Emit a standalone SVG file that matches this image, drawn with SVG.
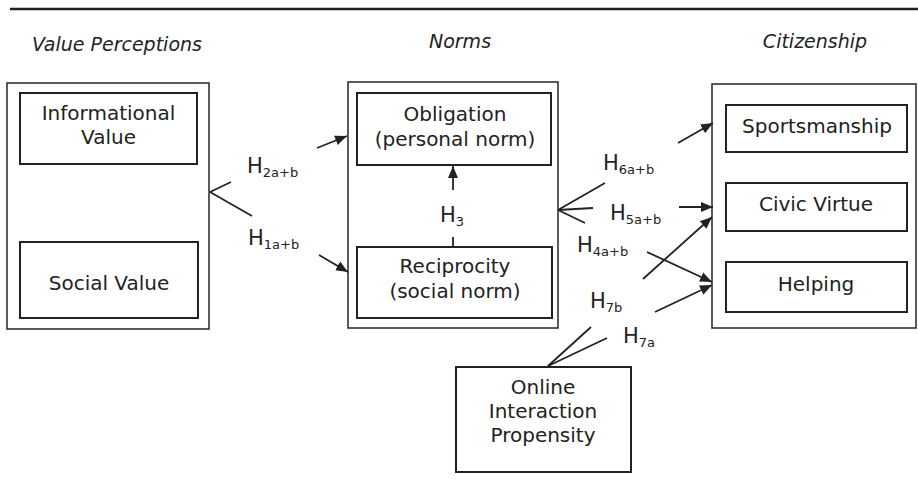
<svg xmlns="http://www.w3.org/2000/svg" width="918" height="495" viewBox="0 0 918 495">
<defs>
<style>
.t{font-family:"DejaVu Sans","Liberation Sans",sans-serif;font-size:20px;fill:#222;text-anchor:middle}
.h{font-family:"DejaVu Sans","Liberation Sans",sans-serif;font-size:19px;fill:#222;font-style:italic;text-anchor:middle}
.l{font-family:"DejaVu Sans","Liberation Sans",sans-serif;font-size:21px;fill:#222}
.s{font-size:13px}
.ob{fill:#fff;stroke:#333;stroke-width:1.6}
.ib{fill:#fff;stroke:#222;stroke-width:2}
.c{stroke:#222;stroke-width:1.8;fill:none}
.a{stroke:#222;stroke-width:1.8;fill:none;marker-end:url(#ah)}
</style>
<marker id="ah" markerUnits="userSpaceOnUse" markerWidth="14" markerHeight="12" refX="12" refY="6" orient="auto">
<path d="M0,1 L12,6 L0,11 Z" fill="#222"/>
</marker>
</defs>
<rect width="918" height="495" fill="#fff"/>
<line x1="10" y1="9" x2="918" y2="9" stroke="#222" stroke-width="2.5"/>
<text class="h" x="117" y="51">Value Perceptions</text>
<text class="h" x="460" y="48">Norms</text>
<text class="h" x="815" y="48">Citizenship</text>

<g id="value-perceptions">
<rect class="ob" x="7" y="83" width="202" height="246"/>
</g>
<g id="informational-value">
<rect class="ib" x="20" y="93" width="177" height="71"/>
<text class="t" x="108.5" y="120">Informational</text>
<text class="t" x="108.5" y="144">Value</text>
</g>
<g id="social-value">
<rect class="ib" x="20" y="242" width="178" height="76"/>
<text class="t" x="109" y="290">Social Value</text>
</g>

<g id="norms">
<rect class="ob" x="348" y="82" width="210" height="246"/>
</g>
<g id="obligation">
<rect class="ib" x="357" y="93" width="194" height="72"/>
<text class="t" x="455" y="121">Obligation</text>
<text class="t" x="455" y="146">(personal norm)</text>
</g>
<g id="reciprocity">
<rect class="ib" x="357" y="247" width="195" height="71"/>
<text class="t" x="455" y="273">Reciprocity</text>
<text class="t" x="455" y="298">(social norm)</text>
</g>

<g id="citizenship">
<rect class="ob" x="712" y="84" width="204" height="244"/>
</g>
<g id="sportsmanship">
<rect class="ib" x="726" y="105" width="181" height="47"/>
<text class="t" x="817" y="133">Sportsmanship</text>
</g>
<g id="civic-virtue">
<rect class="ib" x="726" y="183" width="181" height="48"/>
<text class="t" x="816" y="211">Civic Virtue</text>
</g>
<g id="helping">
<rect class="ib" x="726" y="262" width="181" height="50"/>
<text class="t" x="816" y="291">Helping</text>
</g>

<g id="online-interaction-propensity">
<rect class="ib" x="456" y="367" width="175" height="105"/>
<text class="t" x="543" y="394">Online</text>
<text class="t" x="543" y="418">Interaction</text>
<text class="t" x="543" y="442">Propensity</text>
</g>

<g id="connectors">
<line class="c" x1="210" y1="192" x2="231" y2="182"/>
<line class="c" x1="210" y1="192" x2="252" y2="216"/>
<line class="a" x1="317" y1="148" x2="347" y2="136"/>
<line class="a" x1="319" y1="255" x2="348" y2="272"/>
<line class="a" x1="453" y1="190" x2="453" y2="166"/>
<line class="c" x1="453" y1="237" x2="453" y2="247"/>
<line class="c" x1="558" y1="210" x2="605" y2="183"/>
<line class="c" x1="558" y1="210" x2="593" y2="208"/>
<line class="c" x1="558" y1="210" x2="585" y2="223"/>
<line class="a" x1="678" y1="143" x2="713" y2="123"/>
<line class="a" x1="679" y1="207" x2="713" y2="207"/>
<line class="a" x1="643" y1="279" x2="712" y2="217"/>
<line class="a" x1="647" y1="252" x2="712" y2="282"/>
<line class="a" x1="655" y1="312" x2="712" y2="285"/>
<line class="c" x1="548" y1="366" x2="591" y2="327"/>
<line class="c" x1="548" y1="366" x2="607" y2="338"/>
</g>

<g id="labels">
<text class="l" x="247" y="173">H<tspan class="s" dy="4">2a+b</tspan></text>
<text class="l" x="248" y="245">H<tspan class="s" dy="4">1a+b</tspan></text>
<text class="l" x="440" y="222">H<tspan class="s" dy="4">3</tspan></text>
<text class="l" x="603" y="170">H<tspan class="s" dy="4">6a+b</tspan></text>
<text class="l" x="610" y="220">H<tspan class="s" dy="4">5a+b</tspan></text>
<text class="l" x="577" y="252">H<tspan class="s" dy="4">4a+b</tspan></text>
<text class="l" x="590" y="308">H<tspan class="s" dy="4">7b</tspan></text>
<text class="l" x="623" y="343">H<tspan class="s" dy="4">7a</tspan></text>
</g>
</svg>
